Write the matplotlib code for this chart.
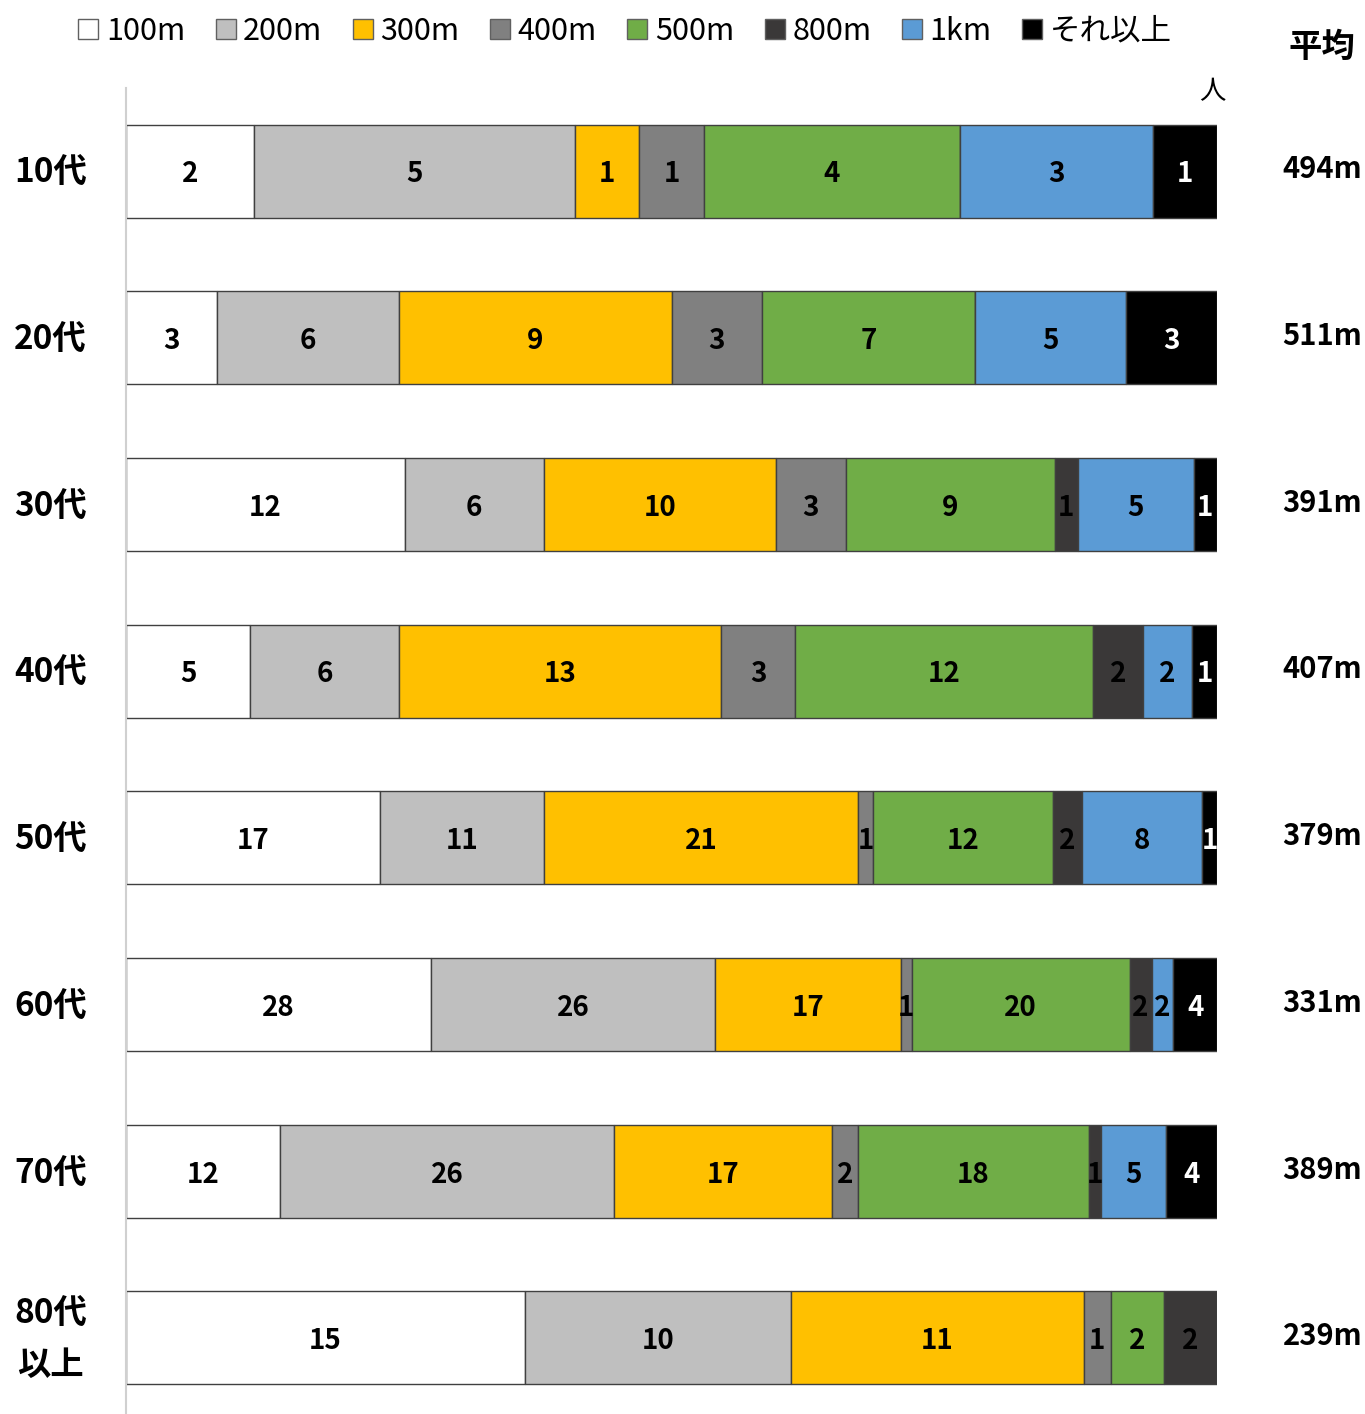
import numpy as np
import matplotlib.pyplot as plt
from matplotlib.patches import Patch

plt.rcParams['font.family'] = ['Noto Sans CJK JP', 'DejaVu Sans']

# age groups (top to bottom) and distance bins
ages = ['10代', '20代', '30代', '40代', '50代', '60代', '70代', '80代\n以上']
bins = ['100m', '200m', '300m', '400m', '500m', '800m', '1km', 'それ以上']
colors = ['#FFFFFF', '#BFBFBF', '#FFC000', '#808080', '#70AD47', '#3A3838', '#5B9BD5', '#000000']

# number of people per age group / distance bin
counts = np.array([
    [2, 5, 1, 1, 4, 0, 3, 1],
    [3, 6, 9, 3, 7, 0, 5, 3],
    [12, 6, 10, 3, 9, 1, 5, 1],
    [5, 6, 13, 3, 12, 2, 2, 1],
    [17, 11, 21, 1, 12, 2, 8, 1],
    [28, 26, 17, 1, 20, 2, 2, 4],
    [12, 26, 17, 2, 18, 1, 5, 4],
    [15, 10, 11, 1, 2, 2, 0, 0],
])
averages = ['494m', '511m', '391m', '407m', '379m', '331m', '389m', '239m']

fig = plt.figure(figsize=(13.65, 14.14), dpi=100)
ax = fig.add_axes([126 / 1365, 0, (1217 - 126) / 1365, 1 - 88 / 1414])

share = counts / counts.sum(axis=1, keepdims=True)
left = np.zeros(len(ages))
y = np.arange(len(ages))
for j, name in enumerate(bins):
    ax.barh(y, share[:, j], left=left, height=0.558, color=colors[j],
            edgecolor='#404040', linewidth=1.0, label=name)
    for i in range(len(ages)):
        if counts[i, j] > 0:
            ax.text(left[i] + share[i, j] / 2, y[i] + 0.02, str(counts[i, j]),
                    ha='center', va='center', fontsize=20, fontweight='bold',
                    color='white' if j == 7 else 'black')
    left += share[:, j]

ax.set_xlim(0, 1)
ax.set_ylim(7.456, -0.498)
ax.set_xticks([])
ax.set_yticks([])
for s in ['top', 'right', 'bottom']:
    ax.spines[s].set_visible(False)
ax.spines['left'].set_color('#D0D0D0')
ax.spines['left'].set_linewidth(1.5)

# age labels on the left, averages on the right
for i, a in enumerate(ages):
    ax.text(-0.069, y[i] + 0.01, a, ha='center', va='center', fontsize=24,
            fontweight='bold', linespacing=1.75, transform=ax.get_yaxis_transform())
    ax.text(1.0966, y[i] - 0.01, averages[i], ha='center', va='center', fontsize=21,
            fontweight='bold', transform=ax.get_yaxis_transform())

fig.text(1322 / 1365, 1 - 47 / 1414, '平均', ha='center', va='center',
         fontsize=24, fontweight='bold')
fig.text(1212 / 1365, 1 - 92 / 1414, '人', ha='center', va='center', fontsize=19)

handles = [Patch(facecolor=c, edgecolor='#606060', linewidth=1) for c in colors]
fig.legend(handles, bins, loc='center', bbox_to_anchor=(625 / 1365, 1 - 31 / 1414),
           ncol=8, frameon=False, fontsize=22, handlelength=0.65, handleheight=0.65,
           handletextpad=0.25, columnspacing=1.0, borderaxespad=0)

fig.savefig('out.png', dpi=100)
